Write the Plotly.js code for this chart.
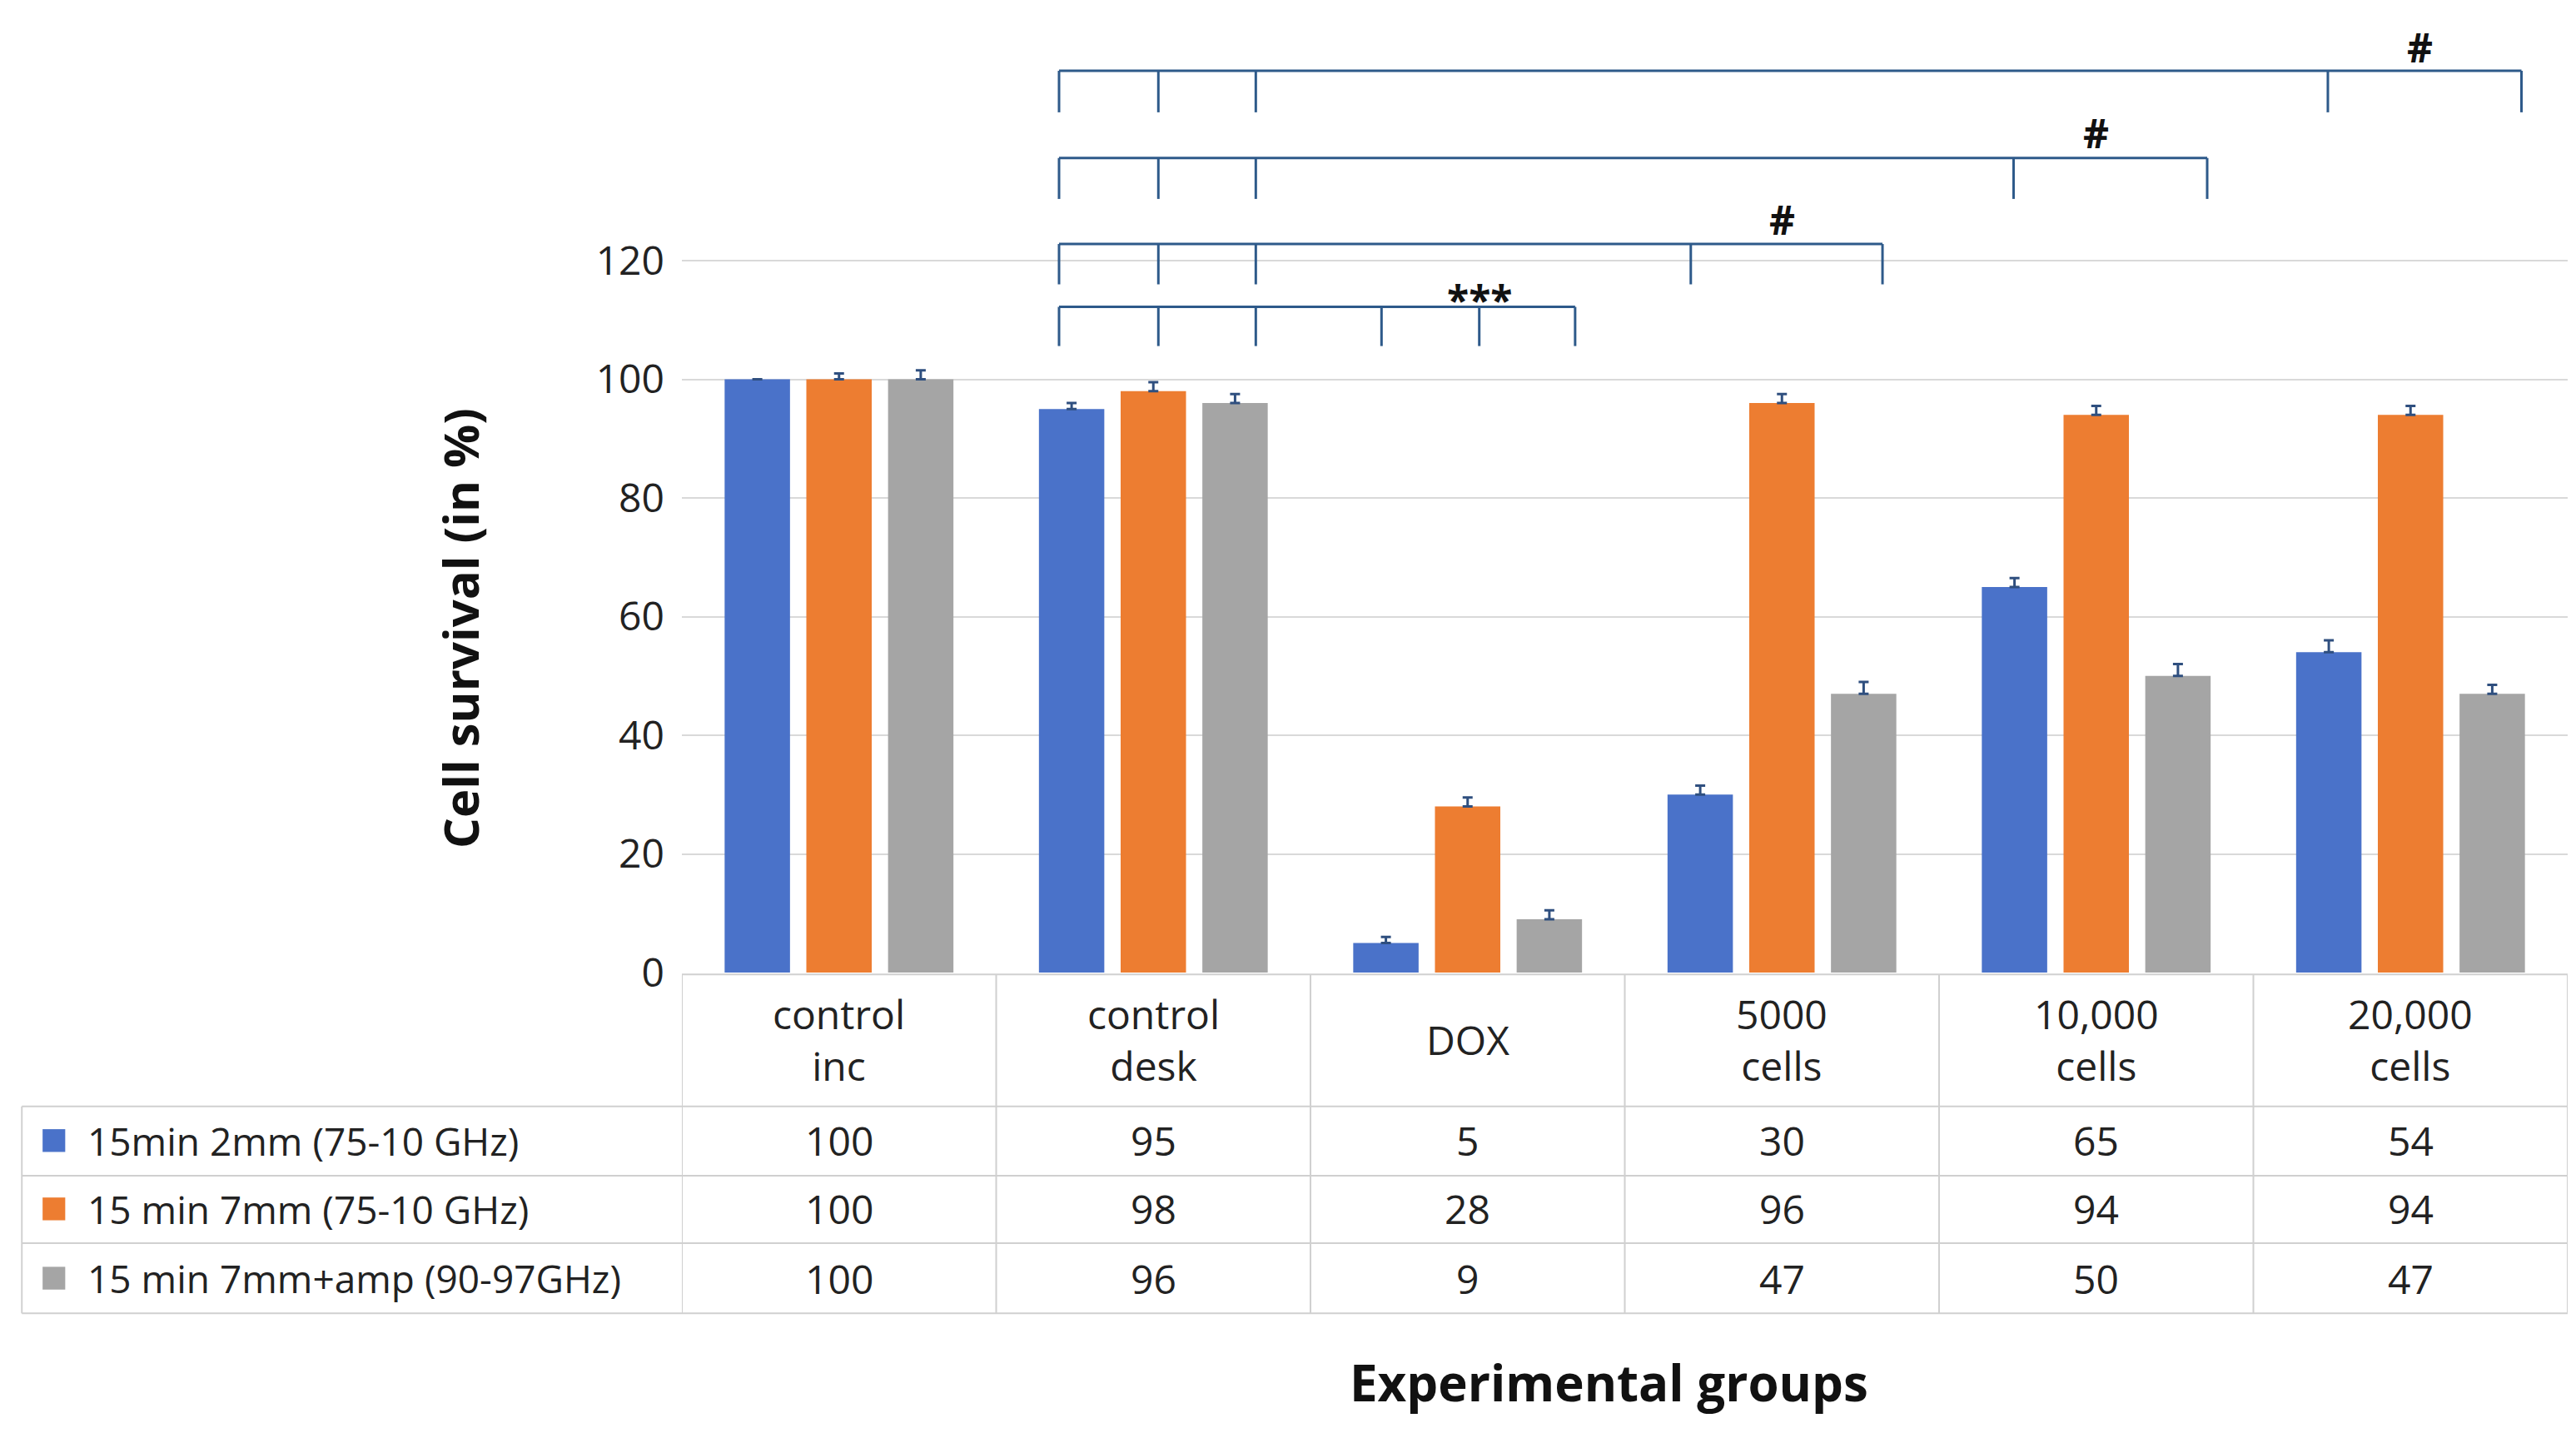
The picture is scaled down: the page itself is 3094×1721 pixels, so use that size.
<!DOCTYPE html><html><head><meta charset="utf-8">
<script src="https://cdn.plot.ly/plotly-3.0.1.min.js"></script>
<style>body{margin:0;background:#fff}</style></head><body><div id="c"></div><script>
const categories=["control<br>inc","control<br>desk","DOX","5000<br>cells","10,000<br>cells","20,000<br>cells"];
const seriesNames=["15min 2mm (75-10 GHz)","15 min 7mm (75-10 GHz)","15 min 7mm+amp (90-97GHz)"];
const s1=[100,95,5,30,65,54];
const s2=[100,98,28,96,94,94];
const s3=[100,96,9,47,50,47];
const e1=[0,1,1,1.5,1.5,2];
const e2=[1,1.5,1.5,1.5,1.5,1.5];
const e3=[1.5,1.5,1.5,2,2,1.5];
const yTicks=[0,20,40,60,80,100,120];
const colors=["#4a72c9","#ed7d31","#a5a5a5"];
const xs=categories.map((_,i)=>i);
const F="Open Sans, DejaVu Sans, sans-serif";
const data=[s1,s2,s3].map((s,k)=>({type:"bar",x:xs,y:s,name:seriesNames[k],marker:{color:colors[k]},
 error_y:{type:"data",array:[e1,e2,e3][k],arrayminus:xs.map(()=>0),symmetric:false,color:"#2f4f7f",thickness:3,width:6},showlegend:false}));
const brackets=[
 [112.2,105.6,[0.70,1.016,1.326,1.726,2.037,2.342],"***",2.037,113.5],
 [122.8,116,[0.70,1.016,1.326,2.71,3.32],"#",3.0,127],
 [137.3,130.4,[0.70,1.016,1.326,3.737,4.353],"#",4.0,141.5],
 [152,145,[0.70,1.016,1.326,4.737,5.353],"#",5.03,156]];
const shapes=[],ann=[];
const bc="#2e5a8a";
brackets.forEach(b=>{const t=b[2];
 shapes.push({type:"line",xref:"x",yref:"y",x0:t[0],x1:t[t.length-1],y0:b[0],y1:b[0],line:{color:bc,width:3}});
 t.forEach(x=>shapes.push({type:"line",xref:"x",yref:"y",x0:x,x1:x,y0:b[0],y1:b[1],line:{color:bc,width:3}}));
 ann.push({xref:"x",yref:"y",x:b[4],y:b[5],text:"<b>"+b[3]+"</b>",showarrow:false,font:{size:48,color:"#111",family:F},yanchor:"middle"});
});
const lc="#d0d0d0";
const rowY=[-0.002,-0.141,-0.214,-0.285,-0.359];
const legL=-0.350;
shapes.push({type:"line",xref:"x",yref:"paper",x0:-0.5,x1:5.5,y0:rowY[0],y1:rowY[0],line:{color:lc,width:2}});
for(let r=1;r<5;r++)shapes.push({type:"line",xref:"paper",yref:"paper",x0:legL,x1:1,y0:rowY[r],y1:rowY[r],line:{color:lc,width:2}});
for(let i=0;i<=6;i++)shapes.push({type:"line",xref:"x",yref:"paper",x0:i-0.5,x1:i-0.5,y0:rowY[0],y1:rowY[4],line:{color:lc,width:2}});
shapes.push({type:"line",xref:"paper",yref:"paper",x0:legL,x1:legL,y0:rowY[1],y1:rowY[4],line:{color:lc,width:2}});
categories.forEach((c,i)=>ann.push({xref:"x",yref:"paper",x:i,y:-0.071,yanchor:"middle",xanchor:"center",text:c,showarrow:false,font:{size:48,color:"#222",family:F}}));
const rowC=[-0.177,-0.249,-0.322];
[s1,s2,s3].forEach((s,k)=>{
 s.forEach((v,i)=>ann.push({xref:"x",yref:"paper",x:i,y:rowC[k],yanchor:"middle",xanchor:"center",text:String(v),showarrow:false,font:{size:48,color:"#222",family:F}}));
 shapes.push({type:"rect",xref:"paper",yref:"paper",x0:-0.339,x1:-0.327,y0:rowC[k]-0.012,y1:rowC[k]+0.012,fillcolor:colors[k],line:{width:0}});
 ann.push({xref:"paper",yref:"paper",x:-0.316,y:rowC[k],xanchor:"left",yanchor:"middle",text:seriesNames[k],showarrow:false,font:{size:46,color:"#222",family:F}});
});
ann.push({xref:"paper",yref:"paper",x:-0.118,y:0.363,xanchor:"center",yanchor:"middle",text:"<b>Cell survival (in %)</b>",textangle:-90,showarrow:false,font:{size:58,color:"#111",family:F}});
ann.push({xref:"x",yref:"paper",x:2.45,y:-0.432,xanchor:"center",yanchor:"middle",text:"<b>Experimental groups</b>",showarrow:false,font:{size:60,color:"#111",family:F}});
const layout={width:3094,height:1721,margin:{l:819,r:10,t:28,b:553},barmode:"group",bargap:0.22,bargroupgap:0.2,
 plot_bgcolor:"#fff",paper_bgcolor:"#fff",
 xaxis:{range:[-0.5,5.5],showticklabels:false,showgrid:false,zeroline:false,ticks:""},
 yaxis:{range:[0,160],tickvals:yTicks,ticktext:yTicks.map(String),showgrid:true,gridcolor:"#d9d9d9",gridwidth:2,zeroline:false,
  tickfont:{size:48,color:"#222",family:F},ticklabelstandoff:20},
 shapes:shapes,annotations:ann};
Plotly.newPlot("c",data,layout,{displayModeBar:false});
</script></body></html>
